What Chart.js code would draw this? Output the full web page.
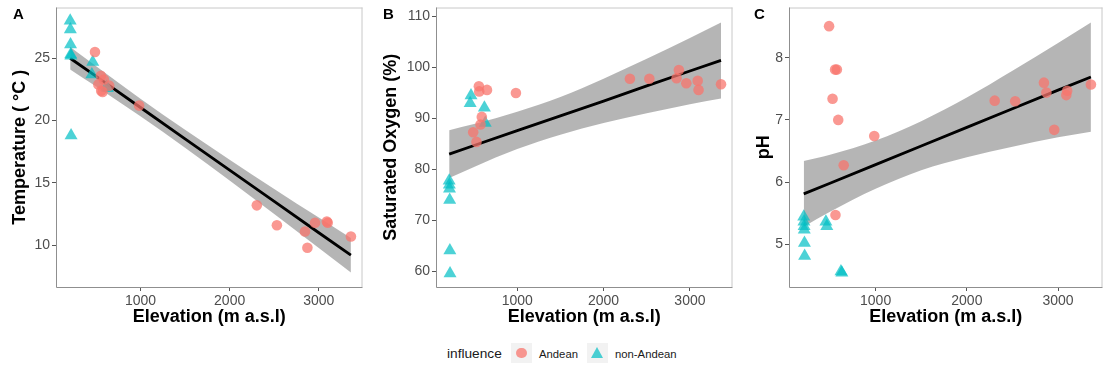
<!DOCTYPE html>
<html><head><meta charset="utf-8">
<script src="https://cdn.jsdelivr.net/npm/chart.js@4.4.1/dist/chart.umd.min.js"></script>
<style>
html,body{margin:0;padding:0;background:#fff;width:1104px;height:368px;overflow:hidden;position:relative;font-family:"Liberation Sans",Arial,sans-serif;}
canvas{position:absolute;top:0;}
.plbl{position:absolute;font-weight:bold;font-size:15px;line-height:15px;color:#000;}
.leg{position:absolute;white-space:nowrap;color:#1a1a1a;}
.key{position:absolute;background:#F2F2F2;width:21px;height:20px;top:343px;}
.dot{position:absolute;left:5px;top:4.5px;width:10.6px;height:10.6px;border-radius:50%;background:rgba(248,118,109,0.75);}
.tri{position:absolute;left:4px;top:4px;width:0;height:0;border-left:6.5px solid transparent;border-right:6.5px solid transparent;border-bottom:11.3px solid rgba(0,191,196,0.7);}
</style></head><body>
<canvas id="cA" width="370" height="332" style="left:0px"></canvas>
<canvas id="cB" width="370" height="332" style="left:370px"></canvas>
<canvas id="cC" width="375" height="332" style="left:735px"></canvas>
<div class="plbl" style="left:13px;top:6px">A</div>
<div class="plbl" style="left:383px;top:6px">B</div>
<div class="plbl" style="left:754px;top:6px">C</div>
<div class="leg" style="left:447px;top:345px;font-size:13.7px;line-height:18px">influence</div>
<div class="key" style="left:511px"><div class="dot"></div></div>
<div class="leg" style="left:539px;top:346px;font-size:11.3px;line-height:16px">Andean</div>
<div class="key" style="left:587px"><div class="tri"></div></div>
<div class="leg" style="left:615px;top:346px;font-size:11.3px;line-height:16px">non-Andean</div>
<script>
// ---- data ----
const elevAndean    = [490, 528, 556, 560, 575, 590, 650, 985, 2305, 2530, 2845, 2872, 2958, 3090, 3100, 3360];
const elevNonAndean = [212, 214, 216, 218, 220, 222, 455, 465, 620, 630];

const tempAndean    = [25.5, 22.9, 23.6, 22.4, 22.3, 23.3, 22.8, 21.2, 13.2, 11.6, 11.1, 9.8, 11.8, 11.9, 11.8, 10.7];
const tempNonAndean = [28.0, 27.3, 26.1, 25.3, 25.2, 18.8, 23.7, 24.7, 22.7, 22.6];

const oxyAndean     = [87.3, 85.4, 96.3, 95.3, 88.8, 90.3, 95.6, 95.0, 97.8, 97.8, 97.9, 99.5, 96.9, 97.4, 95.6, 96.7];
const oxyNonAndean  = [77.8, 77.0, 76.2, 74.0, 64.1, 59.6, 93.0, 94.5, 92.1, 89.1];

const phAndean      = [8.51, 7.34, 7.81, 5.47, 7.81, 7.0, 6.27, 6.74, 7.31, 7.30, 7.6, 7.44, 6.84, 7.40, 7.47, 7.57];
const phNonAndean   = [5.44, 5.36, 5.29, 5.23, 5.02, 4.81, 5.36, 5.29, 4.56, 4.54];

// fitted line and confidence band, read at these elevations
const fitElev   = [212, 500, 1000, 1500, 2000, 2500, 3000, 3360];
const tempFit   = [25.0, 23.56, 21.05, 18.54, 16.03, 13.51, 11.0, 9.2];
const tempUpper = [25.9, 24.37, 21.76, 19.26, 16.86, 14.52, 12.22, 10.59];
const tempLower = [24.1, 22.75, 20.34, 17.82, 15.20, 12.50, 9.78, 7.81];
const oxyFit    = [83.0, 84.7, 87.6, 90.5, 93.4, 96.4, 99.3, 101.4];
const oxyUpper  = [87.7, 88.9, 91.3, 94.2, 97.8, 101.7, 105.8, 108.8];
const oxyLower  = [78.3, 80.5, 84.0, 86.8, 89.1, 91.0, 92.8, 93.9];
const phFit     = [5.81, 5.98, 6.28, 6.58, 6.88, 7.18, 7.48, 7.69];
const phUpper   = [6.34, 6.44, 6.67, 6.98, 7.36, 7.79, 8.24, 8.57];
const phLower   = [5.28, 5.52, 5.89, 6.19, 6.40, 6.57, 6.72, 6.81];

// tick labels
const xTicks    = [1000, 2000, 3000];
const tempTicks = [10, 15, 20, 25];
const oxyTicks  = [60, 70, 80, 90, 100, 110];
const phTicks   = [5, 6, 7, 8];

const F = '"Liberation Sans", Arial, sans-serif';

const borderPlugin = {
  id: 'panelBorder',
  beforeDatasetsDraw(chart) {
    const a = chart.chartArea, c = chart.ctx;
    c.save();
    c.lineWidth = 1;
    c.strokeStyle = '#c8c8c8';
    c.beginPath();
    c.moveTo(a.left, a.top + 0.5); c.lineTo(a.right, a.top + 0.5);
    c.moveTo(a.right - 0.5, a.top); c.lineTo(a.right - 0.5, a.bottom);
    c.stroke();
    c.restore();
  },
  afterDatasetsDraw(chart) {
    const a = chart.chartArea, c = chart.ctx;
    c.save();
    c.lineWidth = 1;
    c.strokeStyle = '#8f8f8f';
    c.beginPath();
    c.moveTo(a.left + 0.5, a.top); c.lineTo(a.left + 0.5, a.bottom + 0.5);
    c.lineTo(a.right, a.bottom + 0.5);
    c.stroke();
    c.restore();
  }
};

function pts(xs, ys) { return xs.map((x, i) => ({x: x, y: ys[i]})); }

function panel(id, o) {
  new Chart(document.getElementById(id), {
    type: 'scatter',
    data: {
      datasets: [
        {label: 'Andean', data: pts(elevAndean, o.andean), pointStyle: 'circle', pointRadius: 5.3,
         backgroundColor: 'rgba(248,118,109,0.75)', borderWidth: 0, borderColor: 'rgba(0,0,0,0)', order: 0},
        {label: 'non-Andean', data: pts(elevNonAndean, o.non), pointStyle: 'triangle', pointRadius: 7.5,
         backgroundColor: 'rgba(0,191,196,0.7)', borderWidth: 0, borderColor: 'rgba(0,0,0,0)', order: 0},
        {type: 'line', data: pts(fitElev, o.fit), borderColor: '#000', borderWidth: 2.8, pointRadius: 0, fill: false, order: 1},
        {type: 'line', data: pts(fitElev, o.upper), borderColor: 'rgba(0,0,0,0)', borderWidth: 0, pointRadius: 0,
         fill: '+1', backgroundColor: 'rgba(153,153,153,0.72)', cubicInterpolationMode: 'monotone', order: 2},
        {type: 'line', data: pts(fitElev, o.lower), borderColor: 'rgba(0,0,0,0)', borderWidth: 0, pointRadius: 0,
         fill: false, cubicInterpolationMode: 'monotone', order: 3}
      ]
    },
    options: {
      responsive: false, animation: false, devicePixelRatio: 1,
      layout: {padding: {left: 0, top: 6, right: o.padRight, bottom: 0}},
      plugins: {legend: {display: false}, tooltip: {enabled: false}},
      scales: {
        x: {
          type: 'linear', min: o.xMin, max: o.xMax,
          afterBuildTicks: s => { s.ticks = xTicks.map(v => ({value: v})); },
          grid: {display: true, drawOnChartArea: false, drawTicks: true, tickLength: 4, tickColor: '#555', tickWidth: 1},
          border: {display: false},
          ticks: {font: {family: F, size: 14}, color: '#4D4D4D', padding: 2, maxRotation: 0, autoSkip: false, callback: v => String(v)},
          title: {display: true, text: 'Elevation (m a.s.l)', color: '#000',
                  font: {family: F, size: 18, weight: 'bold', lineHeight: 1.2}, padding: {top: 0, bottom: 4}},
          afterFit: s => { s.height = 45; s.paddingLeft = 0; s.paddingRight = 0; }
        },
        y: {
          type: 'linear', min: o.yMin, max: o.yMax,
          afterBuildTicks: s => { s.ticks = o.yTicks.map(v => ({value: v})); },
          grid: {display: true, drawOnChartArea: false, drawTicks: true, tickLength: 4, tickColor: '#555', tickWidth: 1},
          border: {display: false},
          ticks: {font: {family: F, size: 14}, color: '#4D4D4D', padding: 2, autoSkip: false, callback: v => String(v)},
          title: {display: true, text: o.yTitle, color: '#000',
                  font: {family: F, size: 18, weight: 'bold', lineHeight: 1.2}, padding: {top: o.titlePad, bottom: 0}},
          afterFit: s => { s.width = o.yW; s.paddingTop = 0; s.paddingBottom = 0; }
        }
      }
    },
    plugins: [borderPlugin]
  });
}

panel('cA', {xMin: 53, xMax: 3490, yMin: 6.65, yMax: 29.07, yTicks: tempTicks, yTitle: 'Temperature ( °C )',
  yW: 56, titlePad: 9.2, padRight: 3, andean: tempAndean, non: tempNonAndean, fit: tempFit, upper: tempUpper, lower: tempLower});
panel('cB', {xMin: 59.5, xMax: 3493, yMin: 56.94, yMax: 111.76, yTicks: oxyTicks, yTitle: 'Saturated Oxygen (%)',
  yW: 66, titlePad: 9.9, padRight: 1, andean: oxyAndean, non: oxyNonAndean, fit: oxyFit, upper: oxyUpper, lower: oxyLower});
panel('cC', {xMin: 50.5, xMax: 3487, yMin: 4.31, yMax: 8.81, yTicks: phTicks, yTitle: 'pH',
  yW: 54, titlePad: 18.2, padRight: 1.4, andean: phAndean, non: phNonAndean, fit: phFit, upper: phUpper, lower: phLower});
</script>
</body></html>
